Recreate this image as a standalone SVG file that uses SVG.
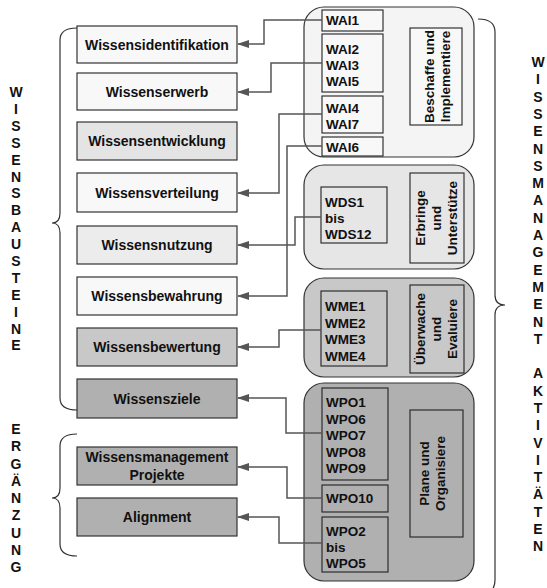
<svg xmlns="http://www.w3.org/2000/svg" width="547" height="588" viewBox="0 0 547 588">
<defs>
<style>
.box{stroke:#333;stroke-width:1.2}
.grp{stroke:#333;stroke-width:1.2}
.ib{stroke:#222;stroke-width:1.1}
.t{font-family:"Liberation Sans",Arial,sans-serif;font-weight:bold;fill:#111}
.lt{font-size:14px;text-anchor:middle}
.it{font-size:13.5px}
.lb{font-size:13.5px;text-anchor:middle}
.side{font-size:14px;text-anchor:middle}
.con{fill:none;stroke:#555;stroke-width:1.5;marker-end:url(#arr)}
.br{fill:none;stroke:#333;stroke-width:1.2}
.w{fill:#f8f8f8}.l1{fill:#e4e4e4}.l2{fill:#ececec}.m{fill:#c8c8c8}.d{fill:#b0b0b0}
</style>
<marker id="arr" markerWidth="12" markerHeight="8" refX="11" refY="4" orient="auto" markerUnits="userSpaceOnUse"><path d="M0,0 L12,4 L0,8 z" fill="#555"/></marker>
</defs>
<rect width="547" height="588" fill="#fff"/>

<g id="braces">
<path class="br" d="M77,28 Q60,28 60,40 V213 Q60,223 52,223 Q60,223 60,233 V398 Q60,410 77,410"/>
<path class="br" d="M77,434 Q60,434 60,446 V488 Q60,498 52,498 Q60,498 60,508 V544 Q60,556 77,556"/>
<path class="br" d="M478,19 Q495,19 495,32 V295 Q495,305 505,305 Q495,305 495,315 V580 Q495,595 478,595"/>
</g>

<g id="side-labels" class="t side">
<text x="16" y="97"><tspan x="16">W</tspan><tspan x="16" dy="16.9">I</tspan><tspan x="16" dy="16.9">S</tspan><tspan x="16" dy="16.9">S</tspan><tspan x="16" dy="16.9">E</tspan><tspan x="16" dy="16.9">N</tspan><tspan x="16" dy="16.9">S</tspan><tspan x="16" dy="16.9">B</tspan><tspan x="16" dy="16.9">A</tspan><tspan x="16" dy="16.9">U</tspan><tspan x="16" dy="16.9">S</tspan><tspan x="16" dy="16.9">T</tspan><tspan x="16" dy="16.9">E</tspan><tspan x="16" dy="16.9">I</tspan><tspan x="16" dy="16.9">N</tspan><tspan x="16" dy="16.9">E</tspan></text>
<text x="16" y="434"><tspan x="16">E</tspan><tspan x="16" dy="17.25">R</tspan><tspan x="16" dy="17.25">G</tspan><tspan x="16" dy="17.25">Ä</tspan><tspan x="16" dy="17.25">N</tspan><tspan x="16" dy="17.25">Z</tspan><tspan x="16" dy="17.25">U</tspan><tspan x="16" dy="17.25">N</tspan><tspan x="16" dy="17.25">G</tspan></text>
<text x="538" y="67"><tspan x="538">W</tspan><tspan x="538" dy="17.3">I</tspan><tspan x="538" dy="17.3">S</tspan><tspan x="538" dy="17.3">S</tspan><tspan x="538" dy="17.3">E</tspan><tspan x="538" dy="17.3">N</tspan><tspan x="538" dy="17.3">S</tspan><tspan x="538" dy="17.3">M</tspan><tspan x="538" dy="17.3">A</tspan><tspan x="538" dy="17.3">N</tspan><tspan x="538" dy="17.3">A</tspan><tspan x="538" dy="17.3">G</tspan><tspan x="538" dy="17.3">E</tspan><tspan x="538" dy="17.3">M</tspan><tspan x="538" dy="17.3">E</tspan><tspan x="538" dy="17.3">N</tspan><tspan x="538" dy="17.3">T</tspan><tspan x="538" dy="34.6">A</tspan><tspan x="538" dy="17.3">K</tspan><tspan x="538" dy="17.3">T</tspan><tspan x="538" dy="17.3">I</tspan><tspan x="538" dy="17.3">V</tspan><tspan x="538" dy="17.3">I</tspan><tspan x="538" dy="17.3">T</tspan><tspan x="538" dy="17.3">Ä</tspan><tspan x="538" dy="17.3">T</tspan><tspan x="538" dy="17.3">E</tspan><tspan x="538" dy="17.3">N</tspan></text>
</g>

<g id="n-wissensidentifikation"><rect class="box w" x="77" y="26" width="160" height="37"/><text class="t lt" x="157" y="49.5">Wissensidentifikation</text></g>
<g id="n-wissenserwerb"><rect class="box w" x="77" y="73" width="160" height="37"/><text class="t lt" x="157" y="96.5">Wissenserwerb</text></g>
<g id="n-wissensentwicklung"><rect class="box l1" x="77" y="122" width="160" height="38"/><text class="t lt" x="157" y="146">Wissensentwicklung</text></g>
<g id="n-wissensverteilung"><rect class="box w" x="77" y="173" width="160" height="39"/><text class="t lt" x="157" y="197.5">Wissensverteilung</text></g>
<g id="n-wissensnutzung"><rect class="box l2" x="77" y="226" width="160" height="38"/><text class="t lt" x="157" y="250">Wissensnutzung</text></g>
<g id="n-wissensbewahrung"><rect class="box w" x="77" y="277" width="160" height="38"/><text class="t lt" x="157" y="301">Wissensbewahrung</text></g>
<g id="n-wissensbewertung"><rect class="box m" x="77" y="328" width="160" height="38"/><text class="t lt" x="157" y="352">Wissensbewertung</text></g>
<g id="n-wissensziele"><rect class="box d" x="77" y="379" width="160" height="39"/><text class="t lt" x="157" y="403.5">Wissensziele</text></g>
<g id="n-wm-projekte"><rect class="box d" x="77" y="447" width="160" height="38"/><text class="t lt" x="157" y="462">Wissensmanagement</text><text class="t lt" x="157" y="480">Projekte</text></g>
<g id="n-alignment"><rect class="box d" x="77" y="498" width="160" height="38"/><text class="t lt" x="157" y="522">Alignment</text></g>

<g id="g-wai">
<rect class="grp" x="304" y="7" width="170" height="150" rx="20" fill="#f4f4f4"/>
<rect class="ib" x="322" y="10" width="61" height="21" fill="#f8f8f8"/>
<text class="t it" x="326" y="25">WAI1</text>
<rect class="ib" x="322" y="34" width="61" height="58" fill="#f8f8f8"/>
<text class="t it" x="326" y="54">WAI2</text><text class="t it" x="326" y="70">WAI3</text><text class="t it" x="326" y="86">WAI5</text>
<rect class="ib" x="322" y="96" width="61" height="37" fill="#f8f8f8"/>
<text class="t it" x="326" y="113">WAI4</text><text class="t it" x="326" y="129">WAI7</text>
<rect class="ib" x="322" y="137" width="61" height="19" fill="#f8f8f8"/>
<text class="t it" x="326" y="152">WAI6</text>
<rect class="ib" x="410" y="28" width="52" height="97" fill="#f8f8f8"/>
<text class="t lb" transform="translate(436,76.5) rotate(-90)"><tspan x="0" y="-2.5">Beschaffe und</tspan><tspan x="0" y="13.5">Implementiere</tspan></text>
</g>

<g id="g-wds">
<rect class="grp" x="304" y="165" width="170" height="104" rx="20" fill="#e6e6e6"/>
<rect class="ib" x="321" y="187" width="66" height="56" fill="#e6e6e6"/>
<text class="t it" x="325" y="207">WDS1</text><text class="t it" x="325" y="223">bis</text><text class="t it" x="325" y="239">WDS12</text>
<rect class="ib" x="410" y="173" width="54" height="90" fill="#e6e6e6"/>
<text class="t lb" transform="translate(437,218) rotate(-90)"><tspan x="0" y="-12.5">Erbringe</tspan><tspan x="0" y="3.5">und</tspan><tspan x="0" y="19.5">Unterstütze</tspan></text>
</g>

<g id="g-wme">
<rect class="grp" x="304" y="278" width="170" height="99" rx="20" fill="#c8c8c8"/>
<rect class="ib" x="321" y="291" width="66" height="75" fill="#c8c8c8"/>
<text class="t it" x="325" y="311">WME1</text><text class="t it" x="325" y="327.5">WME2</text><text class="t it" x="325" y="344">WME3</text><text class="t it" x="325" y="360.5">WME4</text>
<rect class="ib" x="410" y="285" width="54" height="88" fill="#c8c8c8"/>
<text class="t lb" transform="translate(437,329) rotate(-90)"><tspan x="0" y="-12.5">Überwache</tspan><tspan x="0" y="3.5">und</tspan><tspan x="0" y="19.5">Evaluiere</tspan></text>
</g>

<g id="g-wpo">
<rect class="grp" x="304" y="383" width="170" height="198" rx="20" fill="#b0b0b0"/>
<rect class="ib" x="322" y="388" width="66" height="92" fill="#b0b0b0"/>
<text class="t it" x="326" y="407">WPO1</text><text class="t it" x="326" y="423.5">WPO6</text><text class="t it" x="326" y="440">WPO7</text><text class="t it" x="326" y="456.5">WPO8</text><text class="t it" x="326" y="473">WPO9</text>
<rect class="ib" x="322" y="485" width="66" height="27" fill="#b0b0b0"/>
<text class="t it" x="326" y="503">WPO10</text>
<rect class="ib" x="322" y="517" width="66" height="55" fill="#b0b0b0"/>
<text class="t it" x="326" y="536">WPO2</text><text class="t it" x="326" y="552">bis</text><text class="t it" x="326" y="568">WPO5</text>
<rect class="ib" x="410" y="410" width="53" height="127" fill="#b0b0b0"/>
<text class="t lb" transform="translate(436.5,473.5) rotate(-90)"><tspan x="0" y="-7.5">Plane und</tspan><tspan x="0" y="8.5">Organisiere</tspan></text>
</g>

<g id="connectors">
<path class="con" d="M322,20 H264 V44 H238"/>
<path class="con" d="M322,63 H271 V92 H238"/>
<path class="con" d="M322,114 H279 V193 H238"/>
<path class="con" d="M322,146 H287 V296 H238"/>
<path class="con" d="M321,217 H295 V245 H238"/>
<path class="con" d="M321,330 H279 V347 H238"/>
<path class="con" d="M322,433 H286 V398 H238"/>
<path class="con" d="M322,498 H287 V467 H238"/>
<path class="con" d="M322,543 H279 V517 H238"/>
</g>
</svg>
